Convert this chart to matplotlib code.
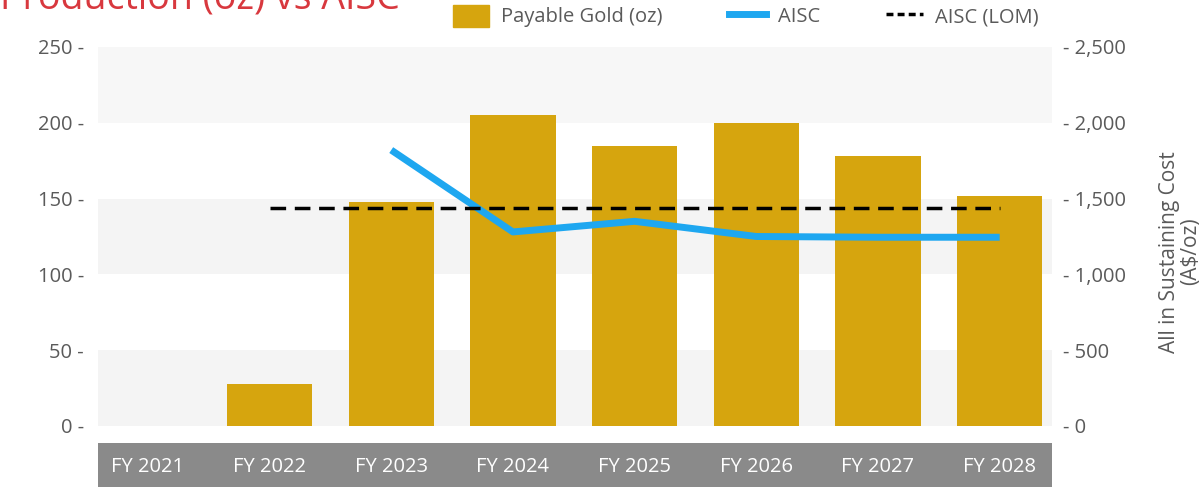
import matplotlib.pyplot as plt
from matplotlib.patches import Patch, Rectangle
from matplotlib.lines import Line2D

# chart data
years = ['FY 2021', 'FY 2022', 'FY 2023', 'FY 2024', 'FY 2025', 'FY 2026', 'FY 2027', 'FY 2028']
payable_gold = [0, 28, 148, 205, 185, 200, 178, 152]
aisc_years = ['FY 2023', 'FY 2024', 'FY 2025', 'FY 2026', 'FY 2027', 'FY 2028']
aisc = [1820, 1280, 1350, 1250, 1245, 1245]
lom_years = ['FY 2022', 'FY 2028']
aisc_lom = [1440, 1440]
left_ticks = [0, 50, 100, 150, 200, 250]
right_ticks = [0, 500, 1000, 1500, 2000, 2500]

gold = '#d6a50e'
blue = '#1ea7f0'
txt = '#5a5a5a'
fs = 14.5

plt.rcParams['font.family'] = ['Open Sans', 'DejaVu Sans']

fig = plt.figure(figsize=(11.99, 4.87), dpi=100)
ax = fig.add_axes([0.0817, 0.1253, 0.7957, 0.7782])
ax2 = ax.twinx()

x = list(range(len(years)))
idx = {y: i for i, y in enumerate(years)}

# alternating background bands
for lo, c in ((0, '#f4f4f4'), (100, '#f4f4f4'), (200, '#f7f7f7')):
    ax.axhspan(lo, lo + 50, color=c, zorder=0, lw=0)

ax.bar(x, payable_gold, width=0.70, color=gold, zorder=2)
ax2.plot([idx[y] for y in aisc_years], aisc, color=blue, lw=5, solid_capstyle='butt', zorder=3)
ax2.plot([idx[y] for y in lom_years], aisc_lom, color='black', lw=2.5, ls=(0, (4.5, 2.5)), zorder=3)

ax.set_xlim(-0.41, 7.43)
ax.set_ylim(0, 250)
ax2.set_ylim(0, 2500)
ax.set_yticks(left_ticks)
ax.set_yticklabels([f'{v} -' for v in left_ticks])
ax2.set_yticks(right_ticks)
ax2.set_yticklabels([f'- {v:,}' for v in right_ticks])

for a in (ax, ax2):
    for s in a.spines.values():
        s.set_visible(False)
ax.patch.set_visible(False)

ax.tick_params(axis='y', length=0, labelcolor=txt, labelsize=fs, pad=10)
ax2.tick_params(axis='y', length=0, labelcolor=txt, labelsize=fs, pad=8)

# x labels on a dark band below the plot
band = Rectangle((0, -0.22), 1, 0.175, transform=ax.transAxes, color='#8a8a8a',
                 clip_on=False, zorder=1, lw=0)
ax.add_patch(band)
ax.set_xticks(x)
ax.set_xticklabels(years)
ax.tick_params(axis='x', length=0, labelcolor='white', labelsize=fs, pad=22)

ax2.set_ylabel('All in Sustaining Cost\n(A$/oz)', color=txt, fontsize=15, labelpad=24,
               linespacing=0.95)
ax2.yaxis.label.set_y(0.46)

fig.text(0.0, 0.983, 'Production (oz) vs AISC', color='#d8383e', fontsize=27,
         fontweight='medium', va='baseline', ha='left')

handles = [Patch(color=gold),
           Line2D([], [], color=blue, lw=5),
           Line2D([], [], color='black', lw=2.5, ls=(0, (2, 1.2)))]
fig.legend(handles, ['Payable Gold (oz)', 'AISC', 'AISC (LOM)'], ncol=3, frameon=False,
           loc='center', bbox_to_anchor=(0.622, 0.967), fontsize=fs, labelcolor=txt,
           handlelength=1.8, handleheight=1.3, columnspacing=3.3, handletextpad=0.6)

fig.savefig('out.png', dpi=100)
